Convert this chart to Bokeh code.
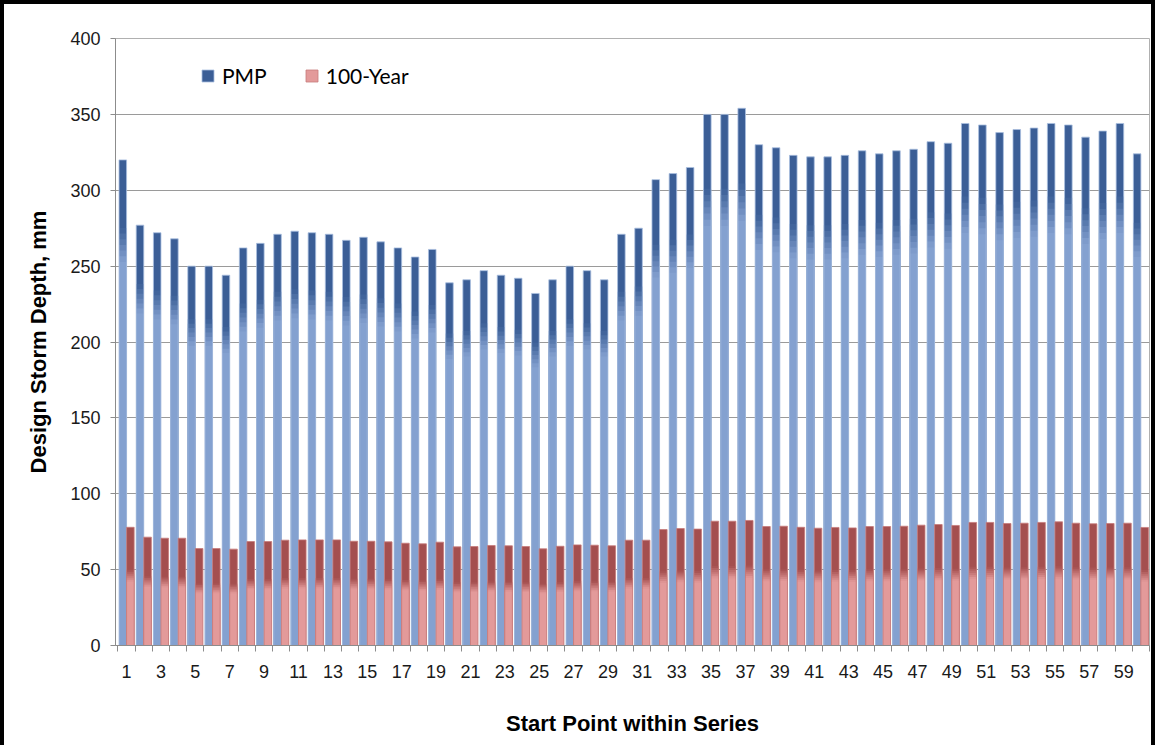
from bokeh.plotting import figure
from bokeh.models import ColumnDataSource, FixedTicker, Legend, LegendItem, Range1d
from bokeh.transform import dodge
from bokeh.embed import file_html
from bokeh.resources import INLINE

# Design storm depth for each start point
start_points = list(range(1, 61))
pmp = [320, 277, 272, 268, 250, 250, 244, 262, 265, 271,
       273, 272, 271, 267, 269, 266, 262, 256, 261, 239,
       241, 247, 244, 242, 232, 241, 250, 247, 241, 271,
       275, 307, 311, 315, 350, 350, 354, 330, 328, 323,
       322, 322, 323, 326, 324, 326, 327, 332, 331, 344,
       343, 338, 340, 341, 344, 343, 335, 339, 344, 324]
year100 = [77.9, 71.4, 70.7, 70.7, 63.9, 63.9, 63.5, 68.5, 68.5, 69.4,
           69.6, 69.6, 69.6, 68.7, 68.7, 68.3, 67.4, 67.0, 68.1, 65.0,
           65.2, 65.9, 65.7, 65.2, 63.7, 65.4, 66.3, 66.1, 65.7, 69.4,
           69.4, 76.4, 77.1, 76.7, 81.9, 81.9, 82.4, 78.4, 78.6, 77.9,
           77.3, 77.8, 77.5, 78.4, 78.4, 78.6, 79.3, 79.7, 79.1, 81.1,
           81.1, 80.4, 80.6, 81.1, 81.5, 80.6, 80.2, 80.4, 80.6, 77.8]
odd_points = [n for n in start_points if n % 2 == 1]
tick_labels = [str(n) for n in odd_points]
y_ticks = [0, 50, 100, 150, 200, 250, 300, 350, 400]


def mix(c1, c2, t):
    a = [int(c1[i:i + 2], 16) for i in (1, 3, 5)]
    b = [int(c2[i:i + 2], 16) for i in (1, 3, 5)]
    return "#%02x%02x%02x" % tuple(round(x + (y - x) * t) for x, y in zip(a, b))


def gradient_layers(light, dark, lo, hi, steps=6):
    # excel style gradient faked with overlapping bars, each drawn from 0 up to
    # a fraction of the value: dark full bar first, lighter shorter ones on top
    layers = [(1.0, dark)]
    for k in range(steps - 1, -1, -1):
        f = lo + (hi - lo) * (k + 1) / steps
        layers.append((f, mix(light, dark, (k + 0.5) / steps)))
    layers.append((lo, light))
    return layers


blue_layers = gradient_layers("#84a1d0", "#3b5e96", 0.79, 0.86)
pink_layers = gradient_layers("#e39a9a", "#a44f4f", 0.54, 0.64)

data = {"cat": start_points, "pmp": pmp, "y100": year100}
for i, (f, _) in enumerate(blue_layers):
    data["b_top%d" % i] = [v * f for v in pmp]
for i, (f, _) in enumerate(pink_layers):
    data["p_top%d" % i] = [v * f for v in year100]
source = ColumnDataSource(data)

p = figure(
    width=1155, height=745,
    x_range=Range1d(0.355, 60.5), y_range=Range1d(0, 400),
    output_backend="svg", toolbar_location=None, tools="",
    min_border_left=111, min_border_right=10,
    min_border_top=34, min_border_bottom=104,
)
p.styles = {"border-left": "4px solid black", "border-top": "4px solid black",
            "border-right": "4px solid black"}
p.outline_line_color = "#b0b0b0"
p.outline_line_width = 1

bar_w = 0.44
blue_x = dodge("cat", -0.22, range=p.x_range)
pink_x = dodge("cat", 0.22, range=p.x_range)

blue_r = []
for i, (f, col) in enumerate(blue_layers):
    blue_r.append(p.vbar(x=blue_x, width=bar_w, bottom=0, top="b_top%d" % i,
                         source=source, fill_color=col, line_color=None))
blue_edge = p.vbar(x=blue_x, width=bar_w, bottom=0, top="pmp", source=source,
                   fill_color=None, line_color="#aabfe0", line_width=0.8)

pink_r = []
for i, (f, col) in enumerate(pink_layers):
    pink_r.append(p.vbar(x=pink_x, width=bar_w, bottom=0, top="p_top%d" % i,
                         source=source, fill_color=col, line_color=None))
pink_edge = p.vbar(x=pink_x, width=bar_w, bottom=0, top="y100", source=source,
                   fill_color=None, line_color="#c77b7b", line_width=0.8)

# axes
p.xaxis.ticker = FixedTicker(ticks=odd_points,
                             minor_ticks=[n - 0.5 for n in start_points] + [60.5])
p.xaxis.major_label_overrides = dict(zip(odd_points, tick_labels))
p.xaxis.major_tick_out = 0
p.xaxis.major_tick_in = 0
p.xaxis.minor_tick_out = 6
p.xaxis.minor_tick_in = 0
p.xaxis.minor_tick_line_color = "#8c8c8c"
p.xaxis.axis_line_color = "#8c8c8c"
p.xaxis.axis_label = "Start Point within Series"
p.xaxis.major_label_standoff = 13
p.xaxis.axis_label_standoff = 30
p.xgrid.grid_line_color = None

p.yaxis.ticker = FixedTicker(ticks=y_ticks)
p.yaxis.minor_tick_line_color = None
p.yaxis.major_tick_out = 5
p.yaxis.major_tick_in = 0
p.yaxis.major_tick_line_color = "#8c8c8c"
p.yaxis.axis_line_color = "#8c8c8c"
p.yaxis.axis_label = "Design Storm Depth, mm"
p.yaxis.major_label_standoff = 10
p.yaxis.axis_label_standoff = 16
p.ygrid.grid_line_color = "#9a9a9a"
p.ygrid.grid_line_width = 1

for ax in (p.xaxis, p.yaxis):
    ax.major_label_text_font = "Liberation Sans"
    ax.major_label_text_font_size = "18px"
    ax.major_label_text_color = "#1a1a1a"
    ax.axis_label_text_font = "Liberation Sans"
    ax.axis_label_text_font_size = "22px"
    ax.axis_label_text_font_style = "bold"
    ax.axis_label_text_color = "black"

legend = Legend(items=[
    LegendItem(label="PMP", renderers=[blue_r[0], blue_edge]),
    LegendItem(label="100-Year", renderers=[pink_r[-1], pink_edge]),
], location=(85, 557), orientation="horizontal")
legend.padding = 0
legend.margin = 0
legend.spacing = 37
legend.glyph_width = 15
legend.glyph_height = 15
legend.label_standoff = 7
legend.label_text_font = "Lato"
legend.label_text_font_size = "21px"
legend.label_text_color = "black"
legend.border_line_color = None
legend.background_fill_alpha = 0
p.add_layout(legend)

open("out.html", "w").write(file_html(p, INLINE))
